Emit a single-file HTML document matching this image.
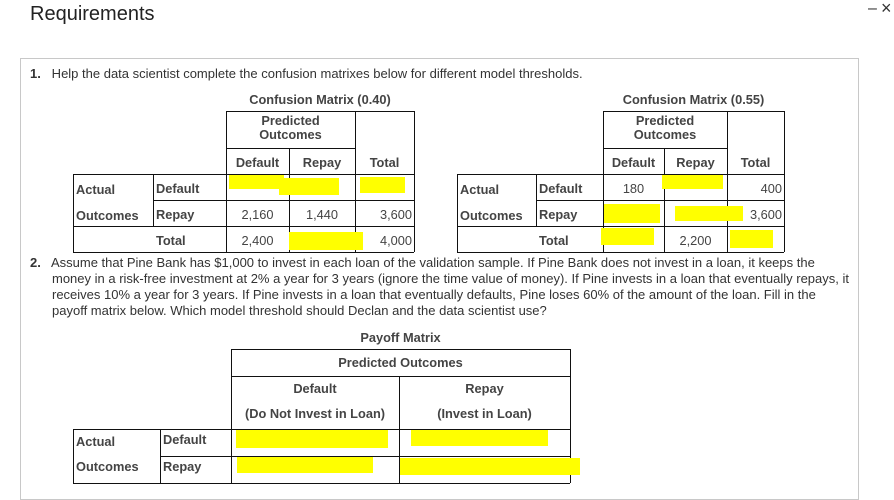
<!DOCTYPE html>
<html><head><meta charset="utf-8"><style>
body{margin:0;width:894px;height:488px;background:#fff;position:relative;overflow:hidden;font-family:"Liberation Sans",Arial,sans-serif;color:#333}
.a{position:absolute;white-space:nowrap}
.h{position:absolute;height:0;border-top:1.5px solid #111}
.v{position:absolute;width:0;border-left:1.5px solid #111}
.t{position:absolute;font-size:12.8px;color:#444;white-space:nowrap;line-height:14px}
.b{font-weight:bold}
.c{text-align:center}
.r{text-align:right}
.y{position:absolute;background:#ffff00}
.p{font-size:13px;color:#333;line-height:16px}
</style></head><body>
<div class="a" style="left:30px;top:3px;font-size:20px;color:#222">Requirements</div>
<div class="a" style="left:868px;top:0px;font-size:16px;color:#333">–</div>
<div class="a" style="left:881px;top:-2px;font-size:18px;color:#333">×</div>
<div class="a" style="left:20px;top:58px;width:837px;height:440px;border:1px solid #c8c8c8"></div>

<div class="a p" style="left:30px;top:66px"><b>1.</b>&nbsp;&nbsp; Help the data scientist complete the confusion matrixes below for different model thresholds.</div>

<!-- Table 1 -->
<div>
<div class="t b c" style="left:226px;width:188px;top:93px">Confusion Matrix (0.40)</div>
<div class="h" style="left:226px;width:188px;top:111px"></div>
<div class="h" style="left:226px;width:129px;top:148px"></div>
<div class="h" style="left:73px;width:341px;top:174px"></div>
<div class="h" style="left:153px;width:261px;top:200px"></div>
<div class="h" style="left:73px;width:341px;top:226px"></div>
<div class="h" style="left:73px;width:341px;top:252px"></div>
<div class="v" style="left:226px;top:111px;height:141px"></div>
<div class="v" style="left:355px;top:111px;height:141px"></div>
<div class="v" style="left:414px;top:111px;height:141px"></div>
<div class="v" style="left:289px;top:148px;height:104px"></div>
<div class="v" style="left:73px;top:174px;height:78px"></div>
<div class="v" style="left:153px;top:174px;height:52px"></div>
<div class="t b c" style="left:226px;width:129px;top:114px">Predicted<br>Outcomes</div>
<div class="t b c" style="left:226px;width:63px;top:156px">Default</div>
<div class="t b c" style="left:289px;width:66px;top:156px">Repay</div>
<div class="t b c" style="left:355px;width:59px;top:156px">Total</div>
<div class="t b" style="left:76px;top:183px">Actual</div>
<div class="t b" style="left:76px;top:209px">Outcomes</div>
<div class="t b" style="left:156px;top:182px">Default</div>
<div class="t b" style="left:156px;top:208px">Repay</div>
<div class="t b" style="left:156px;top:234px">Total</div>
<div class="t c" style="left:226px;width:63px;top:208px">2,160</div>
<div class="t c" style="left:289px;width:66px;top:208px">1,440</div>
<div class="t r" style="left:355px;width:57px;top:208px">3,600</div>
<div class="t c" style="left:226px;width:63px;top:234px">2,400</div>
<div class="t r" style="left:355px;width:57px;top:234px">4,000</div>
<div class="y" style="left:229px;top:175px;width:55px;height:14px"></div>
<div class="y" style="left:279px;top:178px;width:60px;height:17px"></div>
<div class="y" style="left:360px;top:177px;width:45px;height:16px"></div>
<div class="y" style="left:289px;top:232px;width:74px;height:18px"></div>
</div>

<!-- Table 2 -->
<div>
<div class="t b c" style="left:603px;width:181px;top:93px">Confusion Matrix (0.55)</div>
<div class="h" style="left:603px;width:181px;top:111px"></div>
<div class="h" style="left:603px;width:124px;top:148px"></div>
<div class="h" style="left:457px;width:327px;top:174px"></div>
<div class="h" style="left:536px;width:248px;top:200px"></div>
<div class="h" style="left:457px;width:327px;top:226px"></div>
<div class="h" style="left:457px;width:327px;top:252px"></div>
<div class="v" style="left:603px;top:111px;height:141px"></div>
<div class="v" style="left:727px;top:111px;height:141px"></div>
<div class="v" style="left:784px;top:111px;height:141px"></div>
<div class="v" style="left:664px;top:148px;height:104px"></div>
<div class="v" style="left:457px;top:174px;height:78px"></div>
<div class="v" style="left:536px;top:174px;height:52px"></div>
<div class="t b c" style="left:603px;width:124px;top:114px">Predicted<br>Outcomes</div>
<div class="t b c" style="left:603px;width:61px;top:156px">Default</div>
<div class="t b c" style="left:664px;width:63px;top:156px">Repay</div>
<div class="t b c" style="left:727px;width:57px;top:156px">Total</div>
<div class="t b" style="left:460px;top:183px">Actual</div>
<div class="t b" style="left:460px;top:209px">Outcomes</div>
<div class="t b" style="left:539px;top:182px">Default</div>
<div class="t b" style="left:539px;top:208px">Repay</div>
<div class="t b" style="left:539px;top:234px">Total</div>
<div class="t c" style="left:603px;width:61px;top:182px">180</div>
<div class="t r" style="left:727px;width:55px;top:182px">400</div>
<div class="t r" style="left:727px;width:55px;top:208px">3,600</div>
<div class="t c" style="left:664px;width:63px;top:234px">2,200</div>
<div class="y" style="left:662px;top:175px;width:61px;height:14px"></div>
<div class="y" style="left:604px;top:204px;width:56px;height:19px"></div>
<div class="y" style="left:675px;top:206px;width:68px;height:15px"></div>
<div class="y" style="left:601px;top:228px;width:53px;height:17px"></div>
<div class="y" style="left:730px;top:230px;width:43px;height:18px"></div>
</div>

<div class="a p" style="left:30px;top:255px"><b>2.</b>&nbsp;&nbsp; Assume that Pine Bank has $1,000 to invest in each loan of the validation sample. If Pine Bank does not invest in a loan, it keeps the</div>
<div class="a p" style="left:52px;top:271px">money in a risk-free investment at 2% a year for 3 years (ignore the time value of money). If Pine invests in a loan that eventually repays, it</div>
<div class="a p" style="left:52px;top:287px">receives 10% a year for 3 years. If Pine invests in a loan that eventually defaults, Pine loses 60% of the amount of the loan. Fill in the</div>
<div class="a p" style="left:52px;top:303px">payoff matrix below. Which model threshold should Declan and the data scientist use?</div>

<!-- Payoff -->
<div>
<div class="t b c" style="left:231px;width:339px;top:331px">Payoff Matrix</div>
<div class="h" style="left:231px;width:339px;top:349px"></div>
<div class="h" style="left:231px;width:339px;top:376px"></div>
<div class="h" style="left:73px;width:497px;top:429px"></div>
<div class="h" style="left:160px;width:410px;top:456px"></div>
<div class="h" style="left:73px;width:497px;top:483px"></div>
<div class="v" style="left:231px;top:349px;height:134px"></div>
<div class="v" style="left:570px;top:349px;height:134px"></div>
<div class="v" style="left:399px;top:376px;height:107px"></div>
<div class="v" style="left:73px;top:429px;height:54px"></div>
<div class="v" style="left:160px;top:429px;height:54px"></div>
<div class="t b c" style="left:231px;width:339px;top:356px">Predicted Outcomes</div>
<div class="t b c" style="left:231px;width:168px;top:382px">Default</div>
<div class="t b c" style="left:399px;width:171px;top:382px">Repay</div>
<div class="t b c" style="left:231px;width:168px;top:407px">(Do Not Invest in Loan)</div>
<div class="t b c" style="left:399px;width:171px;top:407px">(Invest in Loan)</div>
<div class="t b" style="left:76px;top:435px">Actual</div>
<div class="t b" style="left:76px;top:460px">Outcomes</div>
<div class="t b" style="left:163px;top:433px">Default</div>
<div class="t b" style="left:163px;top:460px">Repay</div>
<div class="y" style="left:236px;top:430px;width:152px;height:18px"></div>
<div class="y" style="left:411px;top:430px;width:137px;height:16px"></div>
<div class="y" style="left:237px;top:457px;width:136px;height:16px"></div>
<div class="y" style="left:400px;top:458px;width:180px;height:17px"></div>
</div>
</body></html>
